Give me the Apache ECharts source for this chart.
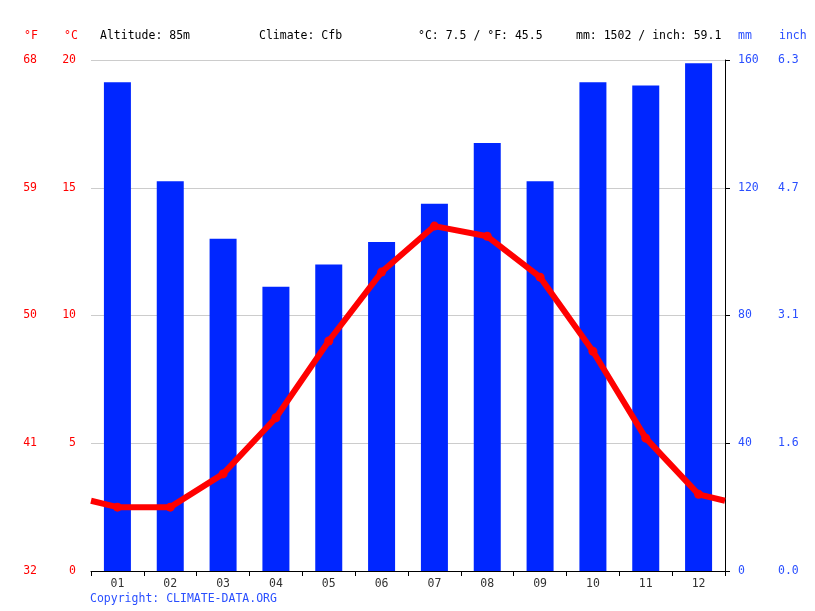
<!DOCTYPE html>
<html><head><meta charset="utf-8">
<script src="https://cdn.jsdelivr.net/npm/echarts@6/dist/echarts.min.js"></script>
<style>html,body{margin:0;padding:0;background:#fff}#c{width:815px;height:611px}</style>
</head><body><div id="c"></div>
<script>
var months = ['01','02','03','04','05','06','07','08','09','10','11','12'];
var precipMm = [153, 122, 104, 89, 96, 103, 115, 134, 122, 153, 152, 159];
var tempC = [2.5, 2.5, 3.8, 6.0, 9.0, 11.7, 13.5, 13.1, 11.5, 8.6, 5.2, 3.0];
var fLabels = ['32','41','50','59','68'];
var inchLabels = ['0.0','1.6','3.1','4.7','6.3'];
var header = {altitude:'Altitude: 85m', climate:'Climate: Cfb', temp:'°C: 7.5 / °F: 45.5', precip:'mm: 1502 / inch: 59.1'};

var FONT = 'DejaVu Sans Mono';
var RED = '#ff0000', BLUE = '#2a4fff', BAR = '#0026ff';

// line points at category centres, plus edge points between Dec and Jan
var edge = (tempC[0] + tempC[11]) / 2;
var lineData = [{value:[0, edge], symbol:'none'}];
tempC.forEach(function(v,i){ lineData.push({value:[i+0.5, v]}); });
lineData.push({value:[12, edge], symbol:'none'});

var chart = echarts.init(document.getElementById('c'));
function txt(x, text, color){
  return {type:'text', left:x, top:30, style:{text:text, fill:color, font:'11.5px "'+FONT+'"'}};
}
chart.setOption({
  animation:false,
  grid:{left:91, right:90, top:60, bottom:40},
  textStyle:{fontFamily:FONT},
  xAxis:[
    {type:'category', data:months, boundaryGap:true,
     axisLine:{lineStyle:{color:'#000'}},
     axisTick:{show:true, interval:0, length:5, lineStyle:{color:'#000'}},
     axisLabel:{color:'#333', fontFamily:FONT, fontSize:11.5, margin:7}},
    {type:'value', min:0, max:12, show:false}
  ],
  yAxis:[
    {type:'value', min:0, max:20, interval:5, position:'left',
     axisLine:{show:false}, axisTick:{show:false},
     axisLabel:{color:RED, fontFamily:FONT, fontSize:11.5, margin:15},
     splitLine:{lineStyle:{color:'#cccccc'}}},
    {type:'value', min:0, max:20, interval:5, position:'left', offset:40,
     axisLine:{show:false}, axisTick:{show:false},
     axisLabel:{color:RED, fontFamily:FONT, fontSize:11.5, margin:14,
       formatter:function(v){ return fLabels[v/5]; }},
     splitLine:{show:false}},
    {type:'value', min:0, max:160, interval:40, position:'right',
     axisLine:{show:true, lineStyle:{color:'#000'}},
     axisTick:{show:true, length:5, lineStyle:{color:'#000'}},
     axisLabel:{color:BLUE, fontFamily:FONT, fontSize:11.5, margin:13},
     splitLine:{show:false}},
    {type:'value', min:0, max:160, interval:40, position:'right', offset:40,
     axisLine:{show:false}, axisTick:{show:false},
     axisLabel:{color:BLUE, fontFamily:FONT, fontSize:11.5, margin:13,
       formatter:function(v){ return inchLabels[v/40]; }},
     splitLine:{show:false}}
  ],
  series:[
    {type:'bar', data:precipMm, xAxisIndex:0, yAxisIndex:2, barWidth:27,
     itemStyle:{color:BAR}},
    {type:'line', data:lineData, xAxisIndex:1, yAxisIndex:0,
     symbol:'circle', symbolSize:9, z:5,
     lineStyle:{color:RED, width:6}, itemStyle:{color:RED}}
  ],
  graphic:[
    txt(24,'°F',RED), txt(64,'°C',RED),
    txt(100,header.altitude,'#000'), txt(259,header.climate,'#000'),
    txt(418,header.temp,'#000'), txt(576,header.precip,'#000'),
    txt(738,'mm',BLUE), txt(779,'inch',BLUE),
    {type:'text', left:90, top:593, style:{text:'Copyright: CLIMATE-DATA.ORG', fill:BLUE, font:'11.5px "'+FONT+'"'}}
  ]
});
</script></body></html>
